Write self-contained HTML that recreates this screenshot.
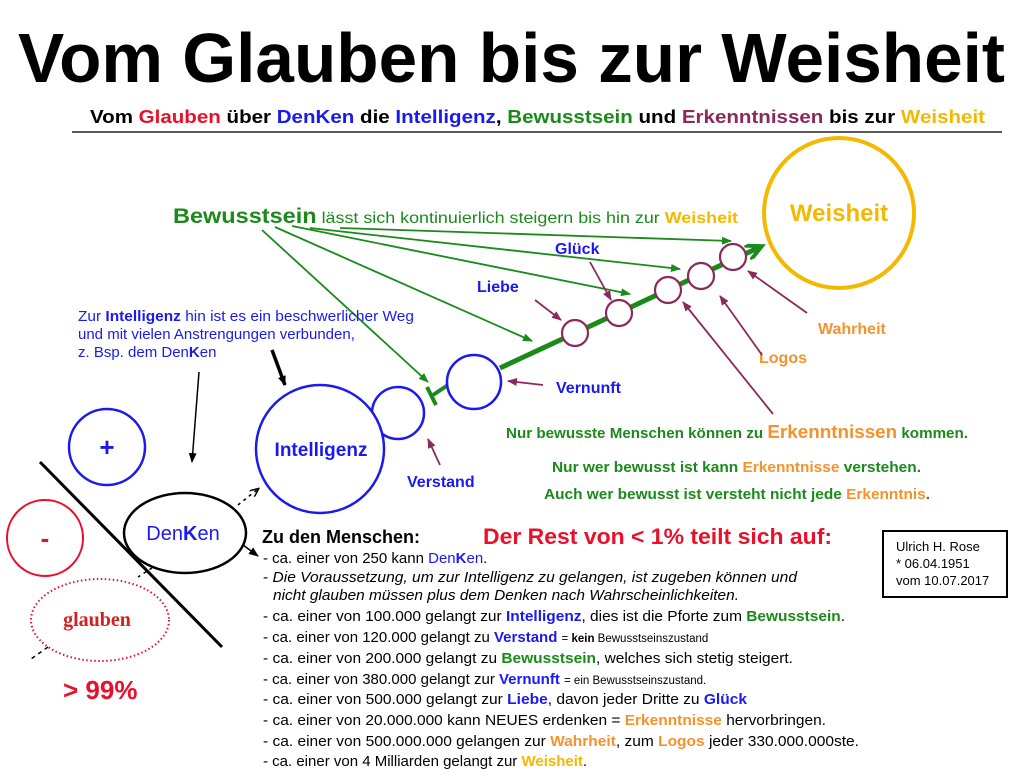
<!DOCTYPE html>
<html><head><meta charset="utf-8"><style>
html,body{margin:0;padding:0;background:#fff;}
svg{display:block;font-family:"Liberation Sans",Arial,sans-serif;}
.b{font-weight:bold}
</style></head><body>
<svg width="1024" height="780" viewBox="0 0 1024 780" xmlns="http://www.w3.org/2000/svg">
<defs>
<marker id="ag" markerWidth="10" markerHeight="8" refX="9" refY="4" orient="auto" markerUnits="userSpaceOnUse"><path d="M0,0 L10,4 L0,8 z" fill="#1a8a1a"/></marker>
<marker id="agb" markerWidth="20" markerHeight="16" refX="14" refY="8" orient="auto" markerUnits="userSpaceOnUse"><path d="M0,0 L16,8 L0,16" fill="none" stroke="#1a8a1a" stroke-width="4"/></marker>
<marker id="ap" markerWidth="10" markerHeight="8" refX="9" refY="4" orient="auto" markerUnits="userSpaceOnUse"><path d="M0,0 L10,4 L0,8 z" fill="#8b2a5a"/></marker>
<marker id="ak" markerWidth="10" markerHeight="8" refX="9" refY="4" orient="auto" markerUnits="userSpaceOnUse"><path d="M0,0 L10,4 L0,8 z" fill="#000"/></marker>
<marker id="ak2" markerWidth="10" markerHeight="8" refX="8" refY="4" orient="auto" markerUnits="userSpaceOnUse"><path d="M0,0 L9,4 L0,8" fill="none" stroke="#000" stroke-width="1.5"/></marker>
</defs>

<text x="18" y="82" font-size="70" class="b" fill="#000" textLength="987" lengthAdjust="spacingAndGlyphs">Vom Glauben bis zur Weisheit</text>
<text x="90" y="123" font-size="18" class="b" textLength="895" lengthAdjust="spacingAndGlyphs"><tspan fill="#000">Vom </tspan><tspan fill="#e8102a">Glauben</tspan><tspan fill="#000"> über </tspan><tspan fill="#1a1aee">Den</tspan><tspan fill="#1a1aee" font-weight="bold">K</tspan><tspan fill="#1a1aee">en</tspan><tspan fill="#000"> die </tspan><tspan fill="#1a1aee">Intelligenz</tspan><tspan fill="#000">, </tspan><tspan fill="#1a8a1a">Bewusstsein</tspan><tspan fill="#000"> und </tspan><tspan fill="#8b2a5a">Erkenntnissen</tspan><tspan fill="#000"> bis zur </tspan><tspan fill="#f5b800">Weisheit</tspan></text>
<line x1="72" y1="132" x2="1002" y2="132" stroke="#222" stroke-width="1.5"/>

<circle cx="839" cy="213" r="75" fill="none" stroke="#f5b800" stroke-width="4"/>
<text x="839" y="221" font-size="24" class="b" fill="#f5b800" text-anchor="middle">Weisheit</text>

<line x1="500" y1="368" x2="760" y2="247" stroke="#1a8a1a" stroke-width="5" marker-end="url(#agb)"/>
<line x1="448" y1="385" x2="433" y2="395" stroke="#1a8a1a" stroke-width="4"/>
<line x1="427" y1="387" x2="436" y2="405" stroke="#1a8a1a" stroke-width="4"/>
<g fill="#fff" stroke="#8b2a5a" stroke-width="2.2">
<circle cx="575" cy="333" r="13"/><circle cx="619" cy="313" r="13"/><circle cx="668" cy="290" r="13"/><circle cx="701" cy="276" r="13"/><circle cx="733" cy="257" r="13"/>
</g>
<circle cx="474" cy="382" r="27" fill="#fff" stroke="#1a1aee" stroke-width="2.5"/>
<circle cx="398" cy="413" r="26" fill="#fff" stroke="#1a1aee" stroke-width="2.5"/>
<circle cx="320" cy="449" r="64" fill="#fff" stroke="#1a1aee" stroke-width="2.5"/>
<text x="321" y="456" font-size="19" class="b" fill="#1a1aee" text-anchor="middle">Intelligenz</text>

<g stroke="#1a8a1a" stroke-width="1.8" marker-end="url(#ag)">
<line x1="262" y1="230" x2="428" y2="382"/>
<line x1="275" y1="227" x2="532" y2="341"/>
<line x1="292" y1="226" x2="630" y2="294"/>
<line x1="310" y1="228" x2="680" y2="269"/>
<line x1="340" y1="228" x2="731" y2="241"/>
</g>
<text x="173" y="223" font-size="16" fill="#1a8a1a" textLength="565" lengthAdjust="spacingAndGlyphs"><tspan font-size="21" class="b">Bewusstsein</tspan> lässt sich kontinuierlich steigern bis hin zur <tspan fill="#f5b800" class="b">Weisheit</tspan></text>

<g font-size="16" class="b" fill="#1a1aee">
<text x="555" y="254">Glück</text>
<text x="477" y="292">Liebe</text>
<text x="556" y="393">Vernunft</text>
<text x="407" y="487">Verstand</text>
</g>
<g font-size="16" class="b" fill="#f5922a">
<text x="818" y="334">Wahrheit</text>
<text x="759" y="363">Logos</text>
</g>
<g stroke="#8b2a5a" stroke-width="1.8" marker-end="url(#ap)">
<line x1="590" y1="262" x2="611" y2="300"/>
<line x1="535" y1="300" x2="561" y2="320"/>
<line x1="543" y1="385" x2="508" y2="381"/>
<line x1="440" y1="465" x2="428" y2="439"/>
<line x1="762" y1="355" x2="720" y2="296"/>
<line x1="807" y1="313" x2="748" y2="271"/>
<line x1="773" y1="414" x2="683" y2="302"/>
</g>

<g class="b" fill="#1a8a1a" font-size="14.5">
<text x="506" y="438" textLength="462" lengthAdjust="spacingAndGlyphs">Nur bewusste Menschen können zu <tspan fill="#f5922a" font-size="18">Erkenntnissen</tspan> kommen.</text>
<text x="552" y="472" textLength="369" lengthAdjust="spacingAndGlyphs">Nur wer bewusst ist kann <tspan fill="#f5922a">Erkenntnisse</tspan> verstehen.</text>
<text x="544" y="499" textLength="386" lengthAdjust="spacingAndGlyphs">Auch wer bewusst ist versteht nicht jede <tspan fill="#f5922a">Erkenntnis</tspan>.</text>
</g>

<g font-size="15" fill="#1a1aee">
<text x="78" y="321" textLength="336" lengthAdjust="spacingAndGlyphs">Zur <tspan class="b">Intelligenz</tspan> hin ist es ein beschwerlicher Weg</text>
<text x="78" y="339">und mit vielen Anstrengungen verbunden,</text>
<text x="78" y="357">z. Bsp. dem Den<tspan class="b">K</tspan>en</text>
</g>
<line x1="199" y1="372" x2="192" y2="462" stroke="#000" stroke-width="1.5" marker-end="url(#ak)"/>
<line x1="272" y1="350" x2="285" y2="385" stroke="#000" stroke-width="3.5" marker-end="url(#ak)"/>

<circle cx="107" cy="447" r="38" fill="none" stroke="#1a1aee" stroke-width="2.5"/>
<text x="107" y="456" font-size="26" class="b" fill="#1a1aee" text-anchor="middle">+</text>
<circle cx="45" cy="538" r="38" fill="none" stroke="#e8102a" stroke-width="2"/>
<text x="45" y="547" font-size="26" class="b" fill="#e8102a" text-anchor="middle">-</text>
<line x1="40" y1="462" x2="222" y2="647" stroke="#000" stroke-width="3"/>
<ellipse cx="185" cy="533" rx="61" ry="40" fill="#fff" stroke="#000" stroke-width="2.5"/>
<text x="183" y="540" font-size="20" fill="#1a1aee" text-anchor="middle">Den<tspan class="b">K</tspan>en</text>
<ellipse cx="100" cy="620" rx="69" ry="41" fill="none" stroke="#e8102a" stroke-width="2" stroke-dasharray="1.5,2.5"/>
<text x="97" y="626" font-size="20" class="b" fill="#d42020" font-family="'Liberation Serif',serif" text-anchor="middle">glauben</text>
<line x1="238" y1="505" x2="258" y2="489" stroke="#000" stroke-width="1.5" stroke-dasharray="3,4" marker-end="url(#ak2)"/>
<line x1="243" y1="545" x2="258" y2="556" stroke="#000" stroke-width="1.5" marker-end="url(#ak)"/>
<line x1="152" y1="568" x2="138" y2="577" stroke="#000" stroke-width="1.5" stroke-dasharray="3,4"/>
<line x1="48" y1="647" x2="31" y2="659" stroke="#000" stroke-width="1.5" stroke-dasharray="4,4"/>
<text x="63" y="699" font-size="26" class="b" fill="#e8102a">&gt; 99%</text>

<rect x="883" y="531" width="124" height="66" fill="none" stroke="#000" stroke-width="2"/>
<g font-size="13" fill="#000">
<text x="896" y="551">Ulrich H. Rose</text>
<text x="896" y="568">* 06.04.1951</text>
<text x="896" y="585">vom 10.07.2017</text>
</g>

<text x="262" y="543" font-size="18" class="b" fill="#000">Zu den Menschen:</text>
<text x="483" y="544" font-size="22" class="b" fill="#e8102a" textLength="349" lengthAdjust="spacingAndGlyphs">Der Rest von &lt; 1% teilt sich auf:</text>
<g font-size="15" fill="#000">
<text x="263" y="563">- ca. einer von 250 kann <tspan fill="#1a1aee">Den<tspan class="b">K</tspan>en</tspan>.</text>
<text x="263" y="582" textLength="534" lengthAdjust="spacingAndGlyphs">- <tspan font-style="italic">Die Voraussetzung, um zur Intelligenz zu gelangen, ist zugeben können und</tspan></text>
<text x="273" y="600" font-style="italic" textLength="466" lengthAdjust="spacingAndGlyphs">nicht glauben müssen plus dem Denken nach Wahrscheinlichkeiten.</text>
<text x="263" y="621" textLength="582" lengthAdjust="spacingAndGlyphs">- ca. einer von 100.000 gelangt zur <tspan class="b" fill="#1a1aee">Intelligenz</tspan>, dies ist die Pforte zum <tspan class="b" fill="#1a8a1a">Bewusstsein</tspan>.</text>
<text x="263" y="642">- ca. einer von 120.000 gelangt zu <tspan class="b" fill="#1a1aee">Verstand</tspan> <tspan font-size="11.5">= <tspan class="b">kein</tspan> Bewusstseinszustand</tspan></text>
<text x="263" y="663" textLength="530" lengthAdjust="spacingAndGlyphs">- ca. einer von 200.000 gelangt zu <tspan class="b" fill="#1a8a1a">Bewusstsein</tspan>, welches sich stetig steigert.</text>
<text x="263" y="684">- ca. einer von 380.000 gelangt zur <tspan class="b" fill="#1a1aee">Vernunft</tspan> <tspan font-size="11.5">= ein Bewusstseinszustand.</tspan></text>
<text x="263" y="704" textLength="484" lengthAdjust="spacingAndGlyphs">- ca. einer von 500.000 gelangt zur <tspan class="b" fill="#1a1aee">Liebe</tspan>, davon jeder Dritte zu <tspan class="b" fill="#1a1aee">Glück</tspan></text>
<text x="263" y="725" textLength="563" lengthAdjust="spacingAndGlyphs">- ca. einer von 20.000.000 kann NEUES erdenken = <tspan class="b" fill="#f5922a">Erkenntnisse</tspan> hervorbringen.</text>
<text x="263" y="746" textLength="596" lengthAdjust="spacingAndGlyphs">- ca. einer von 500.000.000 gelangen zur <tspan class="b" fill="#f5922a">Wahrheit</tspan>, zum <tspan class="b" fill="#f5922a">Logos</tspan> jeder 330.000.000ste.</text>
<text x="263" y="766">- ca. einer von 4 Milliarden gelangt zur <tspan class="b" fill="#f5b800">Weisheit</tspan>.</text>
</g>
</svg>
</body></html>
